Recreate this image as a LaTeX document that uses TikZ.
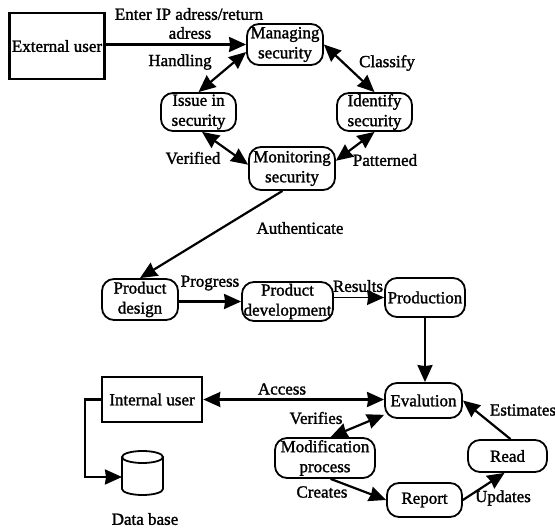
\documentclass[tikz,border=0pt]{standalone}
\usepackage{fontspec}
\setmainfont[FakeBold=1.5]{Liberation Serif}
\usepackage{tikz}
\usetikzlibrary{arrows.meta}
\tikzset{
    ->, % every connector is directed
    >={Stealth[length=17pt, width=15pt, inset=1pt]}, % large solid heads
    x=1pt, y=-1pt, % coordinates are the pixels of the sheet
    every node/.style={font=\fontsize{17}{20}\selectfont, inner sep=0pt, align=center},
    userbox/.style={draw, line width=2.6pt},
    stepbox/.style={draw, rounded corners=12pt, line width=1.8pt},
    flow/.style={line width=2.2pt},
    storeline/.style={-, line width=1.8pt},
}

\begin{document}
\begin{tikzpicture}
    \useasboundingbox (0,0) rectangle (555,529);
    % outer user and security ring
    \node[userbox, minimum width=95pt, minimum height=66pt] (external) at (57,46) {External user};
    \node[stepbox, minimum width=76pt, minimum height=41pt] (managing) at (285,44.5) {Managing\\security};
    \node[stepbox, minimum width=75pt, minimum height=38pt] (issue) at (198.5,112) {Issue in\\security};
    \node[stepbox, minimum width=75pt, minimum height=38pt, node distance=176pt, right of=issue] (identify) {Identify\\security};
    \node[stepbox, minimum width=86pt, minimum height=43pt] (monitoring) at (292,168.5) {Monitoring\\security};
    % product row
    \node[stepbox, minimum width=76pt, minimum height=41pt] (design) at (140,299.5) {Product\\design};
    \node[stepbox, minimum width=91pt, minimum height=39pt, node distance=147.5pt, right of=design, yshift=-2pt] (development) {Product\\development};
    \node[stepbox, minimum width=80pt, minimum height=39pt, node distance=137.5pt, right of=development, yshift=4pt] (production) {Production};
    % evaluation loop
    \node[stepbox, minimum width=77pt, minimum height=35pt, node distance=103pt, below of=production, xshift=-1.5pt] (evaluation) {Evalution};
    \node[stepbox, minimum width=75pt, minimum height=34pt, node distance=99.5pt, below of=evaluation, xshift=1pt] (report) {Report};
    \node[stepbox, minimum width=79pt, minimum height=32pt] (read) at (507.5,456) {Read};
    \node[stepbox, minimum width=100pt, minimum height=40pt] (modification) at (325,458) {Modification\\process};
    % inside user and store
    \node[userbox, minimum width=100pt, minimum height=45pt] (internal) at (152,399.5) {Internal user};
    \draw[storeline] (122,457) -- (122,489) arc[start angle=180, end angle=360, x radius=20.5pt, y radius=6pt] -- (163,457);
    \draw[storeline] (142.5,457) ellipse[x radius=20.5pt, y radius=6pt];
    \coordinate (turn) at (85,477);
    \coordinate (store) at (122,477);
    % labels
    \node (enter) at (189,14) {Enter IP adress/return};
    \node (adress) at (190,33) {adress};
    \node (handling) at (180,62) {Handling};
    \node (classify) at (387,63) {Classify};
    \node (verified) at (193,158) {Verified};
    \node (patterned) at (385,160) {Patterned};
    \node (authenticate) at (300,228) {Authenticate};
    \node (progress) at (210,283) {Progress};
    \node (results) at (358,286) {Results};
    \node (access) at (282,389) {Access};
    \node (verifies) at (316,418) {Verifies};
    \node (creates) at (322,492) {Creates};
    \node (updates) at (503,498) {Updates};
    \node (estimates) at (523,410) {Estimates};
    \node (database) at (145,519) {Data base};
    % connectors
    \path[flow] (external.east |- managing.west) edge (managing.west)
    (managing.191) edge[<->] (issue.north)
    (managing.east) edge[<->] (identify.north)
    (issue.-80) edge[<->] (monitoring.175)
    (identify.south) edge[<->] (monitoring.10)
    (monitoring.-113) edge (design.north)
    (design.east |- development.west) edge (development.west)
    (development.east |- production.west) edge[line width=1.4pt] (production.west)
    (production.south) edge (production.south |- evaluation.north)
    (internal.east) edge[<->] (internal.east -| evaluation.west)
    (evaluation.200) edge[<->] (modification.75)
    (modification.-75) edge (report.west)
    (report.east) edge (read.-100)
    (read.80) edge (evaluation.east);
    \draw[flow] (internal.west) -| (turn) -- (store);
\end{tikzpicture}
\end{document}
